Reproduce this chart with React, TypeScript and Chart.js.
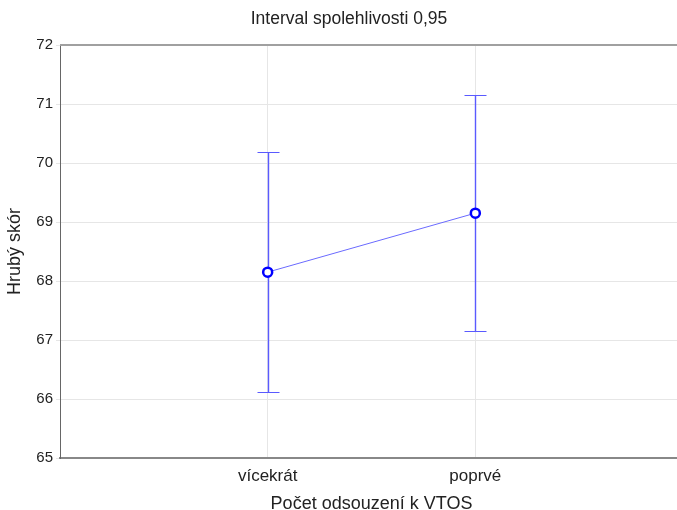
import React, { useEffect, useRef } from "react";
import { Chart, registerables } from "chart.js";

Chart.register(...registerables);

const categories = ["vícekrát", "poprvé"];
const means = [68.15, 69.15];
const upper = [70.18, 71.16];
const lower = [66.12, 67.16];
const yMin = 65;
const yMax = 72;

const FONT = "'Liberation Sans', Arial, sans-serif";

const errorBarPlugin = {
  id: "errorBars",
  beforeDatasetsDraw(chart: any) {
    const { ctx, scales } = chart;
    const xs = scales.x;
    const ys = scales.y;
    ctx.save();
    ctx.strokeStyle = "#5a5aff";
    categories.forEach((_, i) => {
      const x = Math.round(xs.getPixelForValue(i + 1)) + 0.5;
      const yt = Math.round(ys.getPixelForValue(upper[i])) + 0.5;
      const yb = Math.round(ys.getPixelForValue(lower[i])) + 0.5;
      ctx.lineWidth = 1.4;
      ctx.beginPath();
      ctx.moveTo(x, yt);
      ctx.lineTo(x, yb);
      ctx.stroke();
      ctx.lineWidth = 1;
      ctx.beginPath();
      ctx.moveTo(x - 11, yt);
      ctx.lineTo(x + 11, yt);
      ctx.moveTo(x - 11, yb);
      ctx.lineTo(x + 11, yb);
      ctx.stroke();
    });
    ctx.restore();
  },
  afterDraw(chart: any) {
    const { ctx, chartArea } = chart;
    ctx.save();
    ctx.strokeStyle = "#a0a0a0";
    ctx.lineWidth = 2;
    ctx.beginPath();
    ctx.moveTo(chartArea.left, chartArea.top);
    ctx.lineTo(chartArea.right, chartArea.top);
    ctx.stroke();
    ctx.restore();
  },
};

export default function App() {
  const ref = useRef<HTMLCanvasElement>(null);
  useEffect(() => {
    document.body.style.margin = "0";
    const chart = new Chart(ref.current!, {
      type: "line",
      data: {
        datasets: [
          {
            data: categories.map((_, i) => ({ x: i + 1, y: means[i] })),
            borderColor: "#6a6aff",
            borderWidth: 1,
            pointRadius: 4.5,
            pointBorderWidth: 2.5,
            pointBorderColor: "#0000ff",
            pointBackgroundColor: "#ffffff",
            fill: false,
          },
        ],
      },
      options: {
        animation: false,
        responsive: false,
        layout: { padding: { left: 8, right: 0, top: 0, bottom: 0 } },
        plugins: {
          legend: { display: false },
          tooltip: { enabled: false },
          title: {
            display: true,
            text: "Interval spolehlivosti 0,95",
            color: "#222",
            font: { family: FONT, size: 17.5, weight: "normal" },
            padding: { top: 9, bottom: 15 },
          },
        },
        scales: {
          x: {
            type: "linear",
            min: 0,
            max: 3,
            afterBuildTicks: (s: any) => {
              s.ticks = categories.map((_, i) => ({ value: i + 1 }));
            },
            afterFit: (s: any) => {
              s.height = 52;
              s.paddingLeft = 0;
              s.paddingRight = 0;
            },
            ticks: {
              callback: (v: any) => categories[Number(v) - 1] ?? "",
              color: "#222",
              font: { family: FONT, size: 17 },
              padding: 8,
              maxRotation: 0,
            },
            grid: { color: "#e6e6e6", drawTicks: false },
            border: { color: "#888", width: 2 },
            title: {
              display: true,
              text: "Počet odsouzení k VTOS",
              color: "#222",
              font: { family: FONT, size: 18 },
              padding: { top: 0, bottom: -5 },
            },
          },
          y: {
            min: yMin,
            max: yMax,
            afterFit: (s: any) => {
              s.width = 52;
            },
            ticks: {
              stepSize: 1,
              color: "#222",
              font: { family: FONT, size: 15 },
              padding: 3,
            },
            grid: { color: "#e6e6e6", tickLength: 4 },
            border: { color: "#666", width: 1 },
            title: {
              display: true,
              text: "Hrubý skór",
              color: "#222",
              font: { family: FONT, size: 18 },
              padding: { top: -4, bottom: 0 },
            },
          },
        },
      },
      plugins: [errorBarPlugin],
    } as any);
    return () => chart.destroy();
  }, []);
  return (
    <div style={{ width: 677, height: 510, overflow: "hidden", position: "relative" }}>
      <div style={{ width: 690, height: 510, position: "relative" }}>
        <canvas ref={ref} width={690} height={510} style={{ display: "block" }} />
      </div>
    </div>
  );
}
